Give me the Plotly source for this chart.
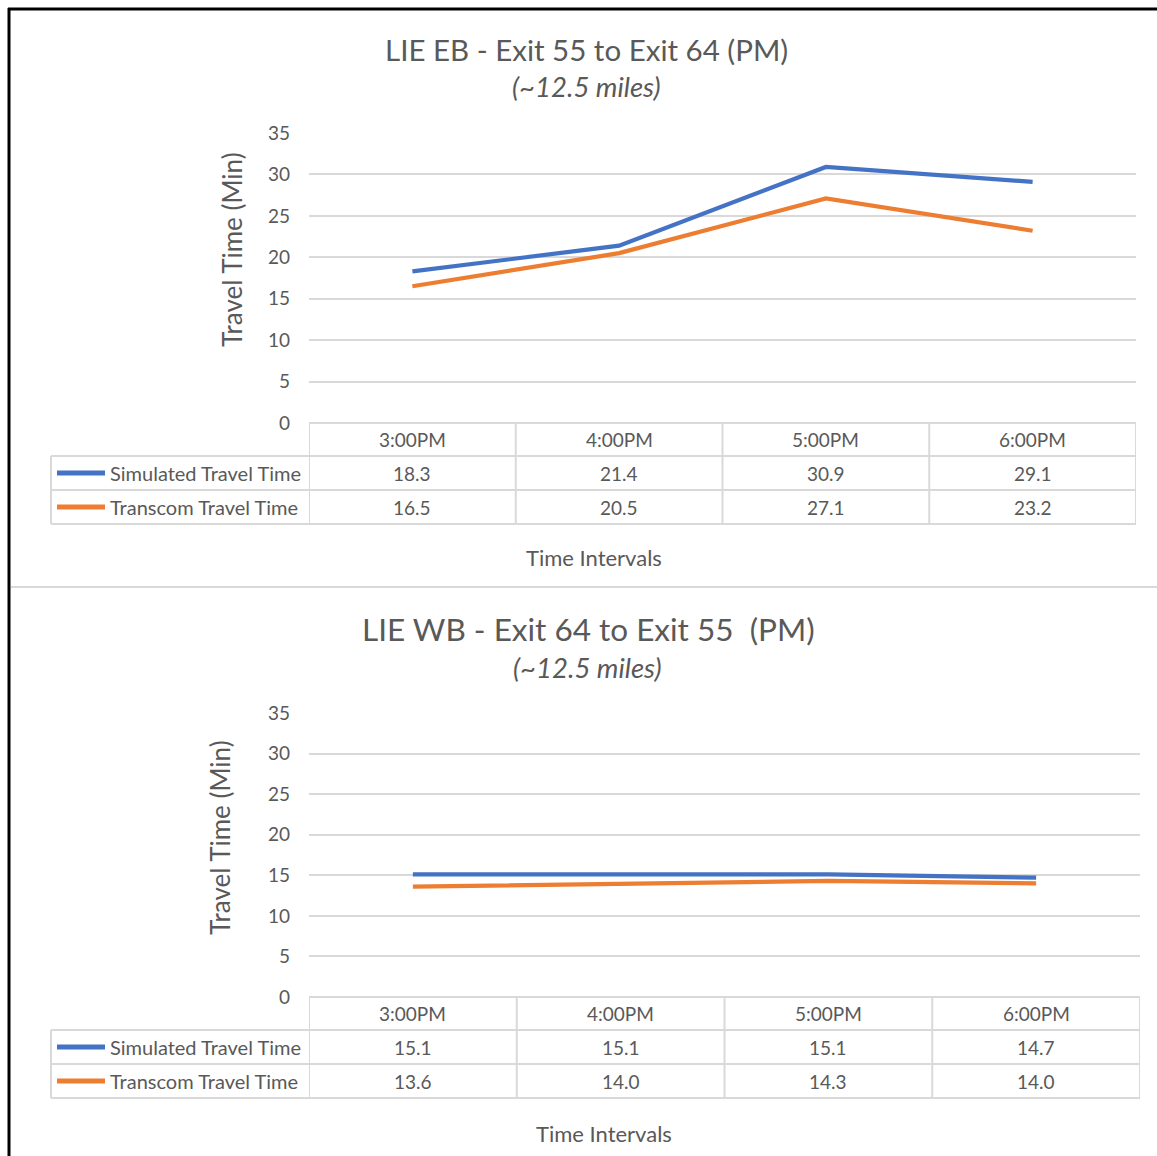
import plotly.graph_objects as go

W, H = 1157, 1156

categories = ["3:00PM", "4:00PM", "5:00PM", "6:00PM"]
series_names = ["Simulated Travel Time", "Transcom Travel Time"]
colors = ["#4472C4", "#ED7D31"]

eb_simulated = [18.3, 21.4, 30.9, 29.1]
eb_transcom = [16.5, 20.5, 27.1, 23.2]
wb_simulated = [15.1, 15.1, 15.1, 14.7]
wb_transcom = [13.6, 14.0, 14.3, 14.0]

titles = ["LIE EB - Exit 55 to Exit 64 (PM)", "LIE WB - Exit 64 to Exit 55  (PM)"]
subtitle = "(~12.5 miles)"
y_title = "Travel Time (Min)"
x_title = "Time Intervals"
y_ticks = [0, 5, 10, 15, 20, 25, 30, 35]

FONT = "Lato"
TXT = "#595959"
GRID = "#D9D9D9"


def X(px):
    return px / W


def Y(py):
    return 1 - py / H


fig = go.Figure()

panels = [
    dict(sim=eb_simulated, tra=eb_transcom, xa="x", ya="y", xl=309, xr=1136, ytop=133, y0=423,
         rows=[423, 456, 490, 524], title_xy=(586, 50), sub_xy=(586, 87), ytitle_xy=(232, 250),
         xtitle_xy=(594, 557), title=titles[0], tsize=29.5),
    dict(sim=wb_simulated, tra=wb_transcom, xa="x2", ya="y2", xl=309, xr=1140, ytop=713, y0=997,
         rows=[997, 1030, 1064, 1098], title_xy=(588, 629), sub_xy=(587, 667), ytitle_xy=(220, 838),
         xtitle_xy=(604, 1133), title=titles[1], tsize=31.5),
]

shapes = []
annotations = []


def ann(x, y, text, size, xref="paper", anchor="center", angle=0):
    annotations.append(dict(x=x, y=y, xref=xref, yref="paper", text=text, showarrow=False,
                            xanchor=anchor, yanchor="middle", textangle=angle,
                            font=dict(family=FONT, size=size, color=TXT)))


for i, p in enumerate(panels):
    for name, vals, col in zip(series_names, [p["sim"], p["tra"]], colors):
        fig.add_trace(go.Scatter(x=categories, y=vals, mode="lines", name=name,
                                 line=dict(color=col, width=4.2), xaxis=p["xa"], yaxis=p["ya"],
                                 showlegend=False))
    sfx = "" if i == 0 else "2"
    fig.update_layout(**{
        "xaxis" + sfx: dict(domain=[X(p["xl"]), X(p["xr"])], type="category", range=[-0.5, 3.5],
                            showticklabels=False, showgrid=False, zeroline=False, showline=False,
                            automargin=False, anchor="y" + sfx, categoryorder="array",
                            categoryarray=categories),
        "yaxis" + sfx: dict(domain=[Y(p["y0"]), Y(p["ytop"])], range=[0, 35], tickvals=y_ticks,
                            showgrid=True, gridcolor=GRID, gridwidth=1.5, zeroline=False,
                            showline=False, ticks="", ticklabelstandoff=18, automargin=False,
                            tickfont=dict(family=FONT, size=19, color=TXT), anchor="x" + sfx),
    })
    xref = p["xa"]
    r = p["rows"]
    lc = dict(color=GRID, width=2)
    shapes.append(dict(type="line", xref=xref, yref="paper", x0=-0.5, x1=3.5, y0=Y(r[0]), y1=Y(r[0]), line=lc))
    for ry in r[1:]:
        shapes.append(dict(type="line", xref="paper", yref="paper", x0=X(51), x1=X(p["xr"]),
                           y0=Y(ry), y1=Y(ry), line=lc))
    for k in range(len(categories) + 1):
        shapes.append(dict(type="line", xref=xref, yref="paper", x0=k - 0.5, x1=k - 0.5,
                           y0=Y(r[0]), y1=Y(r[3]), line=lc))
    shapes.append(dict(type="line", xref="paper", yref="paper", x0=X(51), x1=X(51),
                       y0=Y(r[1]), y1=Y(r[3]), line=lc))
    for k, c in enumerate(categories):
        ann(c, Y((r[0] + r[1]) / 2), c, 19, xref=xref)
        for j, vals in enumerate([p["sim"], p["tra"]]):
            ann(c, Y((r[j + 1] + r[j + 2]) / 2), f"{vals[k]:.1f}", 19, xref=xref)
    for j, (name, col) in enumerate(zip(series_names, colors)):
        yc = Y((r[j + 1] + r[j + 2]) / 2)
        shapes.append(dict(type="line", xref="paper", yref="paper", x0=X(57), x1=X(105), y0=yc, y1=yc,
                           line=dict(color=col, width=5)))
        ann(X(108), yc, name, 20, anchor="left")
    ann(X(p["title_xy"][0]), Y(p["title_xy"][1]), p["title"], p["tsize"])
    ann(X(p["sub_xy"][0]), Y(p["sub_xy"][1]), "<i>" + subtitle + "</i>", 27.5)
    ann(X(p["ytitle_xy"][0]), Y(p["ytitle_xy"][1]), y_title, 26, angle=-90)
    ann(X(p["xtitle_xy"][0]), Y(p["xtitle_xy"][1]), x_title, 22)

shapes.append(dict(type="line", xref="paper", yref="paper", x0=X(11), x1=1, y0=Y(587), y1=Y(587),
                   line=dict(color=GRID, width=2)))
shapes.append(dict(type="line", xref="paper", yref="paper", x0=X(9), x1=X(9), y0=Y(8), y1=0,
                   line=dict(color="black", width=3)))
shapes.append(dict(type="line", xref="paper", yref="paper", x0=X(8), x1=1, y0=Y(9), y1=Y(9),
                   line=dict(color="black", width=3)))

fig.update_layout(width=W, height=H, autosize=False, margin=dict(l=0, r=0, t=0, b=0, pad=0),
                  paper_bgcolor="white", plot_bgcolor="white", shapes=shapes,
                  annotations=annotations, showlegend=False)

fig.write_html("out.html", config={"displayModeBar": False},
               post_script="document.body.style.margin='0';document.body.style.overflow='hidden';")
